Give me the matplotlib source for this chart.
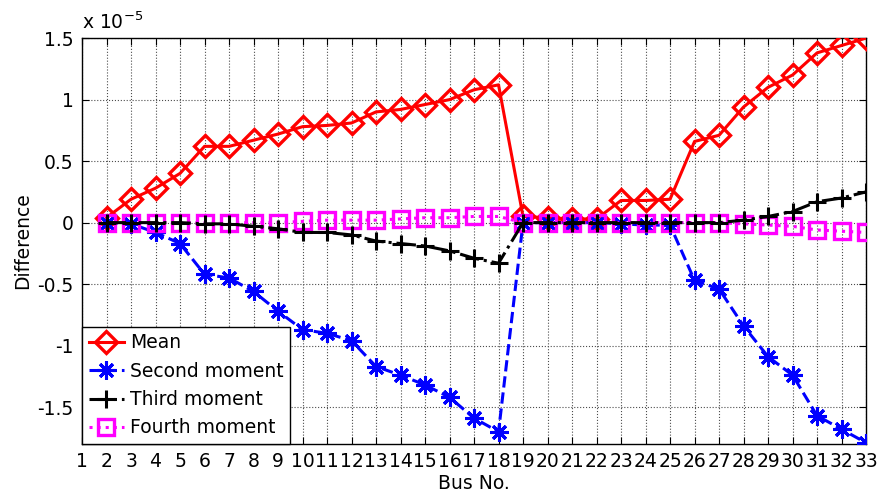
import numpy as np
import matplotlib
matplotlib.use('Agg')
import matplotlib.pyplot as plt

plt.rcParams['font.family'] = ['DejaVu Sans']

# values in units of 1e-5
bus = np.arange(2, 34)
mean_diff = [0.04, 0.19, 0.28, 0.40, 0.62, 0.62, 0.67, 0.72, 0.78, 0.79, 0.81, 0.90, 0.92, 0.96,
             1.00, 1.08, 1.12, 0.05, 0.04, 0.03, 0.03, 0.18, 0.18, 0.19, 0.66, 0.71, 0.94, 1.10,
             1.20, 1.38, 1.44, 1.50]
second = [0.0, -0.01, -0.08, -0.17, -0.42, -0.45, -0.56, -0.72, -0.87, -0.90, -0.96, -1.17, -1.24,
          -1.32, -1.42, -1.59, -1.70, 0.0, 0.0, 0.0, 0.0, -0.01, -0.02, -0.02, -0.47, -0.54, -0.84,
          -1.09, -1.24, -1.57, -1.68, -1.79]
third = [0.0, 0.0, 0.0, 0.0, -0.01, -0.01, -0.03, -0.05, -0.08, -0.08, -0.10, -0.15, -0.17, -0.19,
         -0.23, -0.29, -0.33, 0.0, 0.0, 0.0, 0.0, 0.0, 0.0, 0.0, 0.0, 0.0, 0.02, 0.05, 0.09, 0.17,
         0.20, 0.25]
fourth = [0.0, 0.0, 0.0, 0.0, 0.0, 0.0, 0.0, 0.0, 0.01, 0.02, 0.02, 0.02, 0.03, 0.04, 0.04, 0.05,
          0.05, 0.0, 0.0, 0.0, 0.0, 0.0, 0.0, 0.0, 0.0, 0.0, -0.01, -0.02, -0.03, -0.06, -0.07, -0.08]

fs = 13.5

fig = plt.figure(figsize=(8.78, 4.95), dpi=100)
ax = fig.add_axes([0.0934, 0.103, 0.893, 0.82])

ax.plot(bus, mean_diff, color='red', ls='-', lw=2.2, marker='D', ms=11.5, mfc='none',
        mew=2.4, label='Mean', zorder=3)
ax.plot(bus, second, color='blue', ls='--', lw=2.2, marker=(8, 2, 0), ms=13,
        mew=2.2, label='Second moment', zorder=3)
ax.plot(bus, third, color='black', ls='-.', lw=2.2, marker='+', ms=13,
        mew=2.2, label='Third moment', zorder=4)
ax.plot(bus, fourth, color='magenta', ls=':', lw=2.2, marker='s', ms=11, mfc='none',
        mew=2.4, label='Fourth moment', zorder=3)

ax.set_xlim(1, 33)
ax.set_ylim(-1.8, 1.5)
ax.set_xticks(np.arange(1, 34))
ax.set_xticklabels([str(i) for i in range(1, 34)])
yt = [-1.5, -1, -0.5, 0, 0.5, 1, 1.5]
ax.set_yticks(yt)
ax.set_yticklabels(['-1.5', '-1', '-0.5', '0', '0.5', '1', '1.5'])
ax.tick_params(direction='in', top=True, right=True, labelsize=fs, length=5, pad=6)
ax.grid(True, ls=':', color='0.3', lw=0.8)
for s in ax.spines.values():
    s.set_linewidth(1.0)

ax.set_xlabel('Bus No.', fontsize=fs, labelpad=2)
ax.set_ylabel('Difference', fontsize=fs, labelpad=4)
ax.text(0.0, 1.012, r'x 10$^{-5}$', transform=ax.transAxes, fontsize=fs, ha='left', va='bottom')

leg = ax.legend(loc='lower left', fontsize=fs, fancybox=False, framealpha=1, edgecolor='black',
                borderaxespad=0, handlelength=1.9, borderpad=0.35, labelspacing=0.5,
                handletextpad=0.3)
leg.get_frame().set_linewidth(1.0)

plt.savefig('out.png', dpi=100)
